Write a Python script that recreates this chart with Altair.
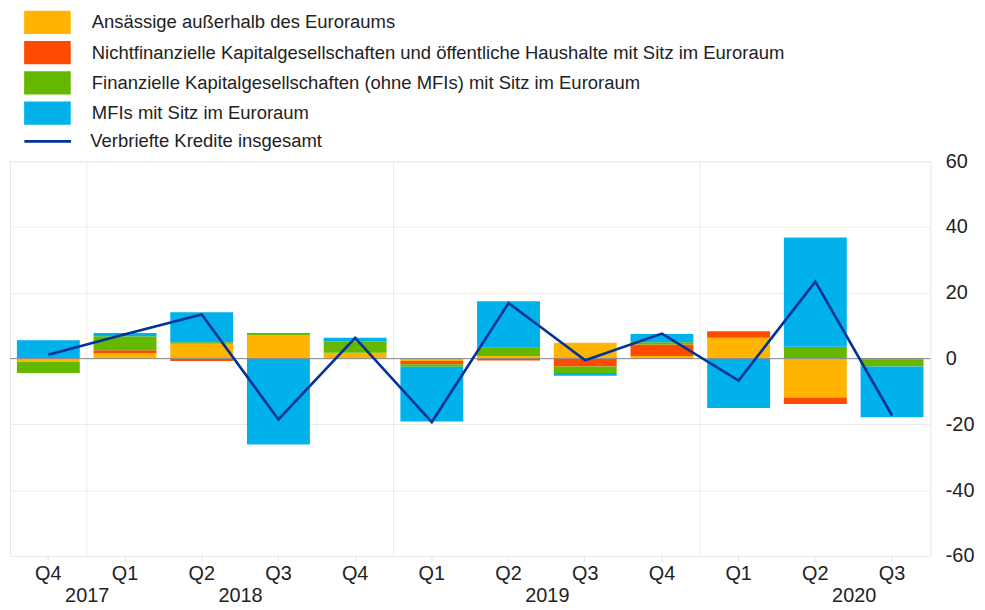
import altair as alt
import pandas as pd

# ---------------- data ----------------
periods = ["2017 Q4", "2018 Q1", "2018 Q2", "2018 Q3", "2018 Q4", "2019 Q1",
           "2019 Q2", "2019 Q3", "2019 Q4", "2020 Q1", "2020 Q2", "2020 Q3"]
quarter_labels = ["Q4", "Q1", "Q2", "Q3", "Q4", "Q1", "Q2", "Q3", "Q4", "Q1", "Q2", "Q3"]

series_names = [
    "Ansässige außerhalb des Euroraums",
    "Nichtfinanzielle Kapitalgesellschaften und öffentliche Haushalte mit Sitz im Euroraum",
    "Finanzielle Kapitalgesellschaften (ohne MFIs) mit Sitz im Euroraum",
    "MFIs mit Sitz im Euroraum",
]
series_colors = ["#FFB400", "#FF4B00", "#65B800", "#00B1EA"]
line_name = "Verbriefte Kredite insgesamt"
line_color = "#003299"

ansaessige = [-1.0, 1.6, 4.5, 7.1, 1.8, -0.7, 0.8, 4.8, 0.8, 6.3, -11.8, 0.0]
nfc        = [0.0, 0.9, -0.7, 0.0, 0.0, -1.0, -0.6, -2.4, 3.5, 2.0, -2.0, -0.2]
fin        = [-3.4, 4.3, 0.5, 0.7, 3.5, -0.8, 2.5, -2.0, 0.7, 0.0, 3.6, -2.2]
mfi        = [5.6, 1.0, 9.1, -26.1, 1.0, -16.6, 14.1, -0.8, 2.5, -15.0, 33.2, -15.4]
total      = [1.2, 7.4, 13.4, -18.5, 6.3, -19.3, 16.9, -0.5, 7.6, -6.7, 23.4, -17.3]

y_ticks = [-60, -40, -20, 0, 20, 40, 60]
years = ["2017", "2018", "2019", "2020"]
year_label_pos = [1, 3, 7, 11]   # in quarter steps from the left edge of the plot

FONT = "Liberation Sans"
TXT = "#222222"

# ---------------- tables ----------------
rows = []
for i, p in enumerate(periods):
    for k, vals in enumerate([ansaessige, nfc, fin, mfi]):
        rows.append({"period": p, "series": series_names[k], "order": k, "value": vals[i]})
bars_df = pd.DataFrame(rows)
line_df = pd.DataFrame({"period": periods, "value": total, "series": line_name})
grid_df = pd.DataFrame({"pos": [i for i, q in enumerate(quarter_labels) if q == "Q1"]})
zero_df = pd.DataFrame({"y": [0]})

year_expr = " : ".join(
    [f"datum.value == {p} ? '{y}'" for p, y in zip(year_label_pos, years)]
) + " : ''"

x_band = alt.X(
    "period:N", sort=periods,
    scale=alt.Scale(paddingInner=0, paddingOuter=0),
    axis=alt.Axis(title=None, labelAngle=0, labelExpr="slice(datum.value, 5)",
                  domain=False, ticks=True, tickSize=5, tickColor="#e0e0e0",
                  labelPadding=3, labelFontSize=20, labelFont=FONT, labelColor=TXT,
                  grid=False, orient="bottom"),
)
y_val = alt.Y(
    "value:Q", stack="zero",
    scale=alt.Scale(domain=[-60, 60], nice=False, zero=False),
    axis=alt.Axis(title=None, orient="right", values=y_ticks, domain=False, ticks=False,
                  labelExpr="'' + datum.value",
                  labelPadding=15, labelFontSize=20, labelFont=FONT, labelColor=TXT,
                  grid=True, gridColor="#ebebeb", gridWidth=1),
)

grid = alt.Chart(grid_df).mark_rule(color="#ebebeb", strokeWidth=1).encode(
    x=alt.X("pos:Q", scale=alt.Scale(domain=[0, 12], nice=False, zero=False),
            axis=alt.Axis(title=None, orient="bottom", values=year_label_pos,
                          labelExpr=year_expr, offset=30, ticks=False, domain=False,
                          grid=False, labelPadding=0, labelFontSize=20,
                          labelFont=FONT, labelColor=TXT, labelBaseline="top"))
)

bars = alt.Chart(bars_df).mark_bar(width=alt.RelativeBandSize(0.82)).encode(
    x=x_band,
    y=y_val,
    color=alt.Color(
        "series:N",
        scale=alt.Scale(domain=series_names, range=series_colors),
        legend=alt.Legend(title=None, orient="none", legendX=25.75, legendY=-152,
                          direction="vertical",
                          symbolType="M-2,-1H2V1H-2Z", symbolSize=552.25,
                          symbolStrokeWidth=0, symbolOpacity=1,
                          labelFontSize=18.6, labelFont=FONT, labelColor=TXT,
                          labelOffset=32.75, rowPadding=6.5, padding=0,
                          labelLimit=900),
    ),
    order=alt.Order("order:Q", sort="ascending"),
)

zero = alt.Chart(zero_df).mark_rule(color="#8a8a8a", strokeWidth=1).encode(
    y=alt.Y("y:Q")
)

line = alt.Chart(line_df).mark_line(strokeWidth=2.6).encode(
    x=alt.X("period:N", sort=periods),
    y=alt.Y("value:Q"),
    stroke=alt.Stroke(
        "series:N",
        scale=alt.Scale(domain=[line_name], range=[line_color]),
        legend=alt.Legend(title=None, orient="none", legendX=13, legendY=-45,
                          symbolType="stroke", symbolSize=2209, symbolStrokeWidth=3,
                          labelFontSize=18.6, labelFont=FONT, labelColor=TXT,
                          labelOffset=18, padding=0, labelLimit=900),
    ),
)

main = alt.layer(bars, zero, line).resolve_scale(color="independent", stroke="independent")

chart = alt.layer(grid, main).resolve_scale(
    x="independent"
).properties(
    width=928, height=398,
    padding={"left": 2, "top": 152, "right": 47, "bottom": 50},
    autosize=alt.AutoSizeParams(type="none"),
    background="white",
).configure_view(stroke="#e6e6e6", strokeWidth=1)

chart.save("out.html", embed_options={"renderer": "svg", "actions": False})
